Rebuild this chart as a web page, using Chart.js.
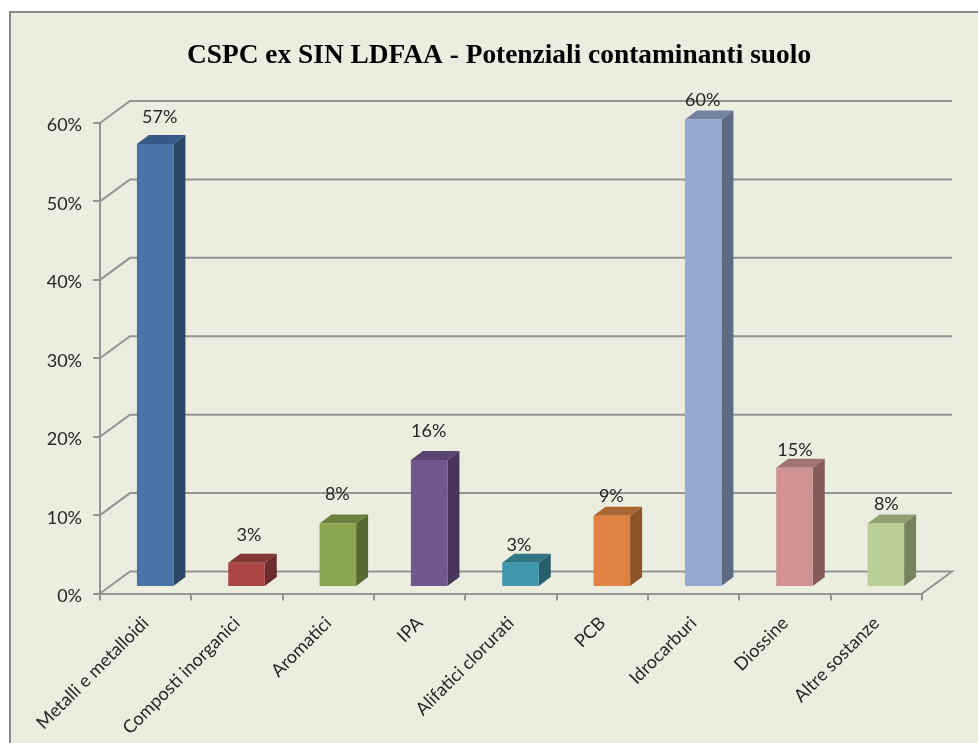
<!DOCTYPE html>
<html>
<head>
<meta charset="utf-8">
<style>
  html, body { margin: 0; background: #fff; }
  canvas { display: block; }
</style>
<script src="https://cdn.jsdelivr.net/npm/chart.js@4"></script>
</head>
<body>
<canvas id="chart" width="978" height="743"></canvas>
<script>
const categories = ["Metalli e metalloidi", "Composti inorganici", "Aromatici", "IPA", "Alifatici clorurati", "PCB", "Idrocarburi", "Diossine", "Altre sostanze"];
const values = [56.5, 3.1, 8.1, 16.2, 3.1, 9.1, 59.6, 15.2, 8.1];
const yTicks = [0, 10, 20, 30, 40, 50, 60];
const frontColors = ["#4a74a8", "#aa4644", "#8aa64e", "#72578f", "#4096ac", "#dd8240", "#96a9d0", "#d09292", "#bacf94"];
const topColors = ["#355a85", "#843735", "#6b813d", "#58446f", "#317585", "#ac6531", "#7482a2", "#a27171", "#909f72"];
const sideColors = ["#2c4766", "#6b2c2b", "#576a31", "#47365a", "#285f6d", "#8c5228", "#5f6b85", "#845c5c", "#76835e"];
const labelLift = [27, 28, 29, 29, 18, 19, 19, 18, 19];
const labelShift = [14, 12, 9, 9, 8, 9, 9, 10, 10];

const AXIS = "#949494";
const TEXT = "#262626";

// white page, green panel with grey edge
const panel = {
  id: "panel",
  beforeDraw(chart) {
    const c = chart.ctx;
    c.save();
    c.fillStyle = "#ebeedf";
    c.fillRect(10, 12, chart.width, chart.height);
    c.fillStyle = "#8a8a8a";
    c.fillRect(9, 11, chart.width, 2);
    c.fillRect(9, 11, 2, chart.height);
    c.restore();
  }
};

// fake 3D: back wall lines, bar sides, value labels
const depth = {
  id: "depth",
  beforeDatasetsDraw(chart) {
    const c = chart.ctx;
    const { left, right } = chart.chartArea;
    const y = chart.scales.y;
    c.save();
    c.strokeStyle = AXIS;
    c.lineWidth = 2;
    yTicks.forEach(t => {
      const py = y.getPixelForValue(t);
      c.beginPath();
      c.moveTo(left, py);
      c.lineTo(left + 30, py - 22);
      c.lineTo(right + 30, py - 22);
      if (t === 0) {
        c.lineTo(right, py);
      }
      c.stroke();
    });
    c.restore();

    c.save();
    c.translate(9.5, -6.5);
    chart.getDatasetMeta(0).data.forEach((bar, i) => {
      const l = bar.x - bar.width / 2;
      const r = bar.x + bar.width / 2;
      c.fillStyle = sideColors[i];
      c.beginPath();
      c.moveTo(r, bar.y);
      c.lineTo(r + 12, bar.y - 9);
      c.lineTo(r + 12, bar.base - 9);
      c.lineTo(r, bar.base);
      c.closePath();
      c.fill();
      c.fillStyle = topColors[i];
      c.beginPath();
      c.moveTo(l, bar.y);
      c.lineTo(l + 12, bar.y - 9);
      c.lineTo(r + 12, bar.y - 9);
      c.lineTo(r, bar.y);
      c.closePath();
      c.fill();
    });
  },
  afterDatasetsDraw(chart) {
    const c = chart.ctx;
    c.restore();
    c.save();
    c.font = "18px Lato";
    c.fillStyle = TEXT;
    c.textAlign = "center";
    c.textBaseline = "middle";
    chart.getDatasetMeta(0).data.forEach((bar, i) => {
      c.fillText(Math.round(values[i]) + "%", bar.x + labelShift[i], bar.y - 6.5 - labelLift[i]);
    });
    c.restore();
  }
};

new Chart(document.getElementById("chart"), {
  type: "bar",
  data: {
    labels: categories,
    datasets: [{
      data: values,
      backgroundColor: frontColors,
      clip: false,
      barPercentage: 0.4,
      categoryPercentage: 1
    }]
  },
  plugins: [panel, depth],
  options: {
    responsive: false,
    animation: false,
    layout: { padding: { left: 20, right: 0, top: 0, bottom: 0 } },
    plugins: {
      legend: { display: false },
      tooltip: { enabled: false },
      title: {
        display: true,
        text: "CSPC ex SIN LDFAA - Potenziali contaminanti suolo",
        color: "#000",
        font: { family: "Liberation Serif", size: 27.4, weight: "bold", lineHeight: 1.2 },
        padding: { top: 39, bottom: 51.1 }
      }
    },
    scales: {
      x: {
        afterFit(s) {
          s.height = 149.5;
          s.paddingLeft = 0;
          s.paddingRight = 56;
        },
        grid: { drawOnChartArea: false, drawTicks: true, tickLength: 7, color: AXIS, lineWidth: 2 },
        border: { color: AXIS, width: 2 },
        ticks: { minRotation: 45, maxRotation: 45, color: TEXT, padding: 12, font: { family: "Lato", size: 18 } }
      },
      y: {
        min: 0,
        max: 60,
        afterFit(s) { s.width = 80; },
        grid: { drawOnChartArea: false, drawTicks: true, tickLength: 7, color: AXIS, lineWidth: 2 },
        border: { color: AXIS, width: 2 },
        afterBuildTicks(s) { s.ticks = yTicks.map(v => ({ value: v })); },
        // empty first line pushes the text a little below the tick
        ticks: { color: TEXT, padding: 11, callback: v => ["", v + "%"], font: { family: "Lato", size: 18, lineHeight: 0.3 } }
      }
    }
  }
});
</script>
</body>
</html>
